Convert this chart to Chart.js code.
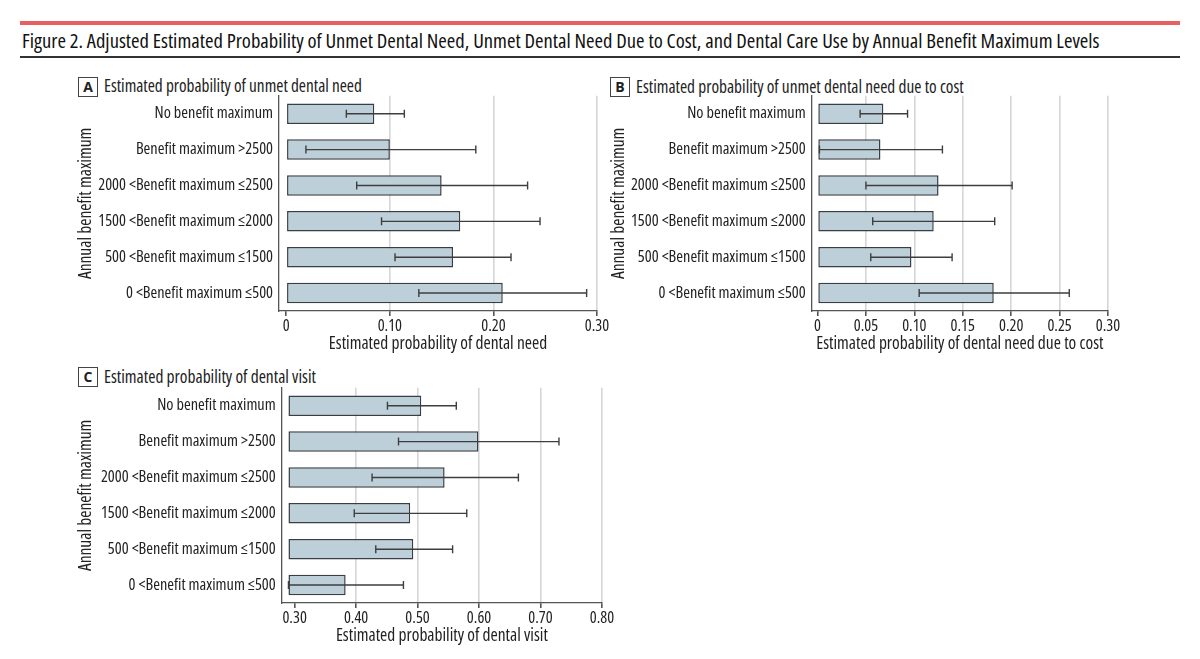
<!DOCTYPE html>
<html><head><meta charset="utf-8">
<script src="https://cdn.jsdelivr.net/npm/chart.js@4.4.1/dist/chart.umd.min.js"></script>
<style>
html,body{margin:0;padding:0;background:#fff}
body{width:1200px;height:659px;position:relative;overflow:hidden;font-family:"Open Sans",sans-serif;font-stretch:semi-condensed;color:#222}
.redline{position:absolute;left:20px;top:21px;width:1160px;height:4px;background:#e8605f}
.title{position:absolute;left:22px;top:29px;font-size:18px;white-space:nowrap;color:#111;line-height:22px}
.blackline{position:absolute;left:20px;top:56px;width:1160px;height:2px;background:#333}
.ptitle{position:absolute;font-size:15px;white-space:nowrap;line-height:18px;color:#222}
.box{position:absolute;width:18px;height:18px;border:1.4px solid #444;font-weight:bold;font-size:14px;text-align:center;line-height:18px;color:#222;font-stretch:normal}
canvas{position:absolute}
</style></head>
<body>
<div class="redline"></div>
<div class="title" id="title">Figure 2. Adjusted Estimated Probability of Unmet Dental Need, Unmet Dental Need Due to Cost, and Dental Care Use by Annual Benefit Maximum Levels</div>
<div class="blackline"></div>

<div class="box" style="left:78px;top:77px">A</div>
<div class="ptitle" id="tA" style="left:104px;top:77px">Estimated probability of unmet dental need</div>
<div class="box" style="left:610px;top:77px">B</div>
<div class="ptitle" id="tB" style="left:636px;top:77px">Estimated probability of unmet dental need due to cost</div>
<div class="box" style="left:78px;top:367px">C</div>
<div class="ptitle" id="tC" style="left:104px;top:367px">Estimated probability of dental visit</div>

<canvas id="cA" width="545" height="278" style="left:70px;top:80px"></canvas>
<canvas id="cB" width="526" height="278" style="left:600px;top:80px"></canvas>
<canvas id="cC" width="550" height="278" style="left:70px;top:372px"></canvas>

<script>
const categories = ["No benefit maximum","Benefit maximum >2500","2000 <Benefit maximum \u22642500","1500 <Benefit maximum \u22642000","500 <Benefit maximum \u22641500","0 <Benefit maximum \u2264500"];

const needEstimate = [0.085, 0.100, 0.150, 0.168, 0.161, 0.209];
const needLower    = [0.058, 0.019, 0.068, 0.092, 0.105, 0.128];
const needUpper    = [0.114, 0.183, 0.233, 0.245, 0.217, 0.290];

const costEstimate = [0.068, 0.065, 0.125, 0.120, 0.097, 0.182];
const costLower    = [0.044, 0.002, 0.050, 0.057, 0.055, 0.105];
const costUpper    = [0.093, 0.129, 0.201, 0.183, 0.139, 0.260];

const visitEstimate = [0.506, 0.599, 0.544, 0.488, 0.493, 0.383];
const visitLower    = [0.451, 0.469, 0.426, 0.397, 0.432, 0.290];
const visitUpper    = [0.563, 0.730, 0.664, 0.580, 0.557, 0.477];
const visitBase = 0.29;

const needTicks = [0, 0.10, 0.20, 0.30];
const needTickLabels = ["0", "0.10", "0.20", "0.30"];
const costTicks = [0, 0.05, 0.10, 0.15, 0.20, 0.25, 0.30];
const costTickLabels = ["0", "0.05", "0.10", "0.15", "0.20", "0.25", "0.30"];
const visitTicks = [0.30, 0.40, 0.50, 0.60, 0.70, 0.80];
const visitTickLabels = ["0.30", "0.40", "0.50", "0.60", "0.70", "0.80"];

const FAMILY = '"Open Sans", sans-serif';
const STRETCH = 'semi-condensed';

function fitEl(id, target) {
  const t = document.getElementById(id);
  const fs = parseFloat(getComputedStyle(t).fontSize);
  const w = t.getBoundingClientRect().width;
  t.style.fontSize = (fs * target / w) + 'px';
}
fitEl('title', 1078);
fitEl('tA', 258);
fitEl('tB', 328);
fitEl('tC', 212);

// font size for chart text fitted to the reference label width
const mctx = document.createElement('canvas').getContext('2d');
mctx.font = 'normal ' + STRETCH + ' 100px ' + FAMILY;
const SIZE = 100 * 175 / mctx.measureText(categories[2]).width;
const FONT = {family: FAMILY, size: SIZE, weight: 'normal ' + STRETCH};
const TFONT = {family: FAMILY, size: SIZE * 1.07, weight: 'normal ' + STRETCH};
const TXT = '#222';

const errorBars = {
  id: 'errorBars',
  afterDatasetsDraw(chart) {
    const ctx = chart.ctx, x = chart.scales.x;
    const ds = chart.data.datasets[0];
    const meta = chart.getDatasetMeta(0);
    ctx.save();
    ctx.strokeStyle = '#3e3e3e';
    ctx.lineWidth = 1.4;
    meta.data.forEach((bar, i) => {
      const y = bar.y;
      const x1 = x.getPixelForValue(ds.errLow[i]);
      const x2 = x.getPixelForValue(ds.errHigh[i]);
      ctx.beginPath();
      ctx.moveTo(x1, y); ctx.lineTo(x2, y);
      ctx.moveTo(x1, y - 4); ctx.lineTo(x1, y + 4);
      ctx.moveTo(x2, y - 4); ctx.lineTo(x2, y + 4);
      ctx.stroke();
    });
    ctx.restore();
  }
};

function makePanel(id, est, lo, hi, base, ticks, tickLabels, xMin, xMax, xTitle, cfg) {
  new Chart(document.getElementById(id), {
    type: 'bar',
    data: {
      labels: categories,
      datasets: [{
        data: est.map(v => [base, v]),
        errLow: lo, errHigh: hi,
        backgroundColor: '#bdd0d9',
        borderColor: '#383e43',
        borderWidth: 1.5,
        borderSkipped: false,
        categoryPercentage: 1,
        barPercentage: 0.57
      }]
    },
    options: {
      responsive: false,
      animation: false,
      indexAxis: 'y',
      devicePixelRatio: 1,
      layout: {padding: {top: cfg.padTop, right: cfg.padRight, bottom: 0, left: 0}},
      plugins: {legend: {display: false}, tooltip: {enabled: false}},
      scales: {
        x: {
          type: 'linear', min: xMin, max: xMax,
          afterBuildTicks: s => { s.ticks = ticks.map(v => ({value: v})); },
          afterFit: s => { s.height = cfg.xHeight; },
          ticks: {callback: (v, i) => tickLabels[i], font: FONT, color: TXT, padding: 1, maxRotation: 0, autoSkip: false},
          grid: {color: c => c.index === 0 ? 'rgba(0,0,0,0)' : '#d6d6d6', lineWidth: 1.6, tickColor: '#555', tickLength: 5, drawTicks: true},
          border: {color: '#555', width: 1.3},
          title: {display: true, text: xTitle, font: TFONT, color: TXT, padding: {top: 0, bottom: 4}}
        },
        y: {
          type: 'category', offset: true,
          afterFit: s => { s.width = cfg.yWidth; },
          ticks: {font: FONT, color: TXT, padding: 6},
          grid: {display: true, drawOnChartArea: false, drawTicks: false},
          border: {color: '#555', width: 1.3},
          title: {display: true, text: 'Annual benefit maximum', font: TFONT, color: TXT, padding: {top: cfg.yTitlePad, bottom: 0}}
        }
      }
    },
    plugins: [errorBars]
  });
}

makePanel('cA', needEstimate, needLower, needUpper, 0, needTicks, needTickLabels, -0.007, 0.30,
  'Estimated probability of dental need', {padTop: 5, padRight: 18, xHeight: 47, yWidth: 209, yTitlePad: 6});
makePanel('cB', costEstimate, costLower, costUpper, 0, costTicks, costTickLabels, -0.006, 0.30,
  'Estimated probability of dental need due to cost', {padTop: 5, padRight: 18, xHeight: 47, yWidth: 211.7, yTitlePad: 9});
makePanel('cC', visitEstimate, visitLower, visitUpper, visitBase, visitTicks, visitTickLabels, 0.279, 0.80,
  'Estimated probability of dental visit', {padTop: 4.5, padRight: 18, xHeight: 47, yWidth: 211.7, yTitlePad: 6});
</script>
</body></html>
